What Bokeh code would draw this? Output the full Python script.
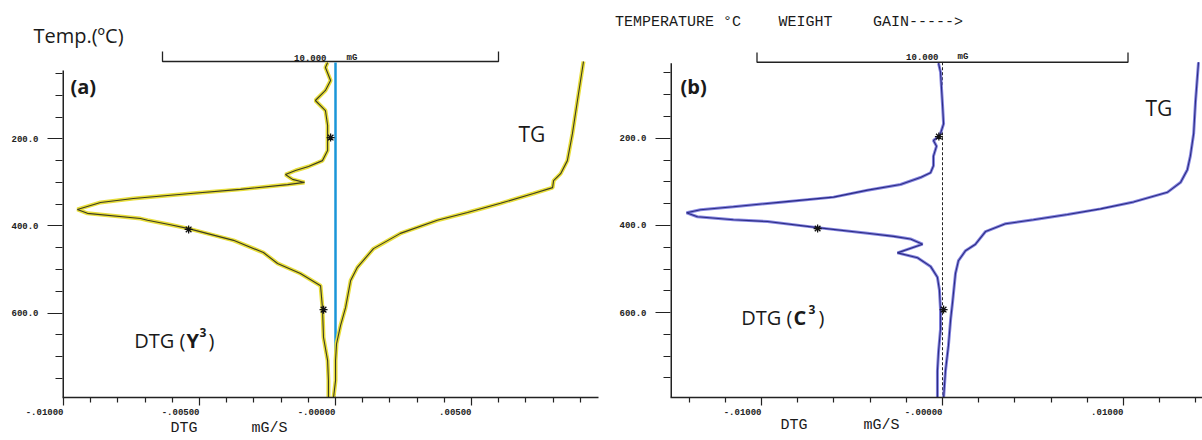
from bokeh.plotting import figure
from bokeh.models import Range1d, FixedTicker, Label, LinearAxis
from bokeh.layouts import row
from bokeh.embed import file_html
from bokeh.resources import INLINE

# ---------------- axes ----------------
temp_major = [200, 400, 600]
temp_labels = ["200.0", "400.0", "600.0"]
temp_minor = [50, 100, 150, 250, 300, 350, 450, 500, 550, 650, 700, 750]

a_x_major = [-0.010, -0.005, 0.0, 0.005]
a_x_labels = ["-.01000", "-.00500", "-.00000", ".00500"]
a_x_minor = [-0.009, -0.008, -0.007, -0.006, -0.004, -0.003, -0.002, -0.001,
             0.001, 0.002, 0.003, 0.004, 0.006, 0.007, 0.008, 0.009]

b_x_major = [-0.010, 0.0, 0.010]
b_x_labels = ["-.01000", "-.00000", ".01000"]
b_x_minor = [-0.014, -0.012, -0.008, -0.006, -0.004, -0.002,
             0.002, 0.004, 0.006, 0.008, 0.012, 0.014]

# ---------------- panel (a): Y3 ----------------
a_dtg_temp = [24.8, 36.3, 66.1, 89, 112, 135, 169, 227, 250, 263.5, 272.7, 282, 293, 300,
              305, 316, 325, 337, 346, 362, 371, 383, 387, 397, 406, 433, 461, 486, 509,
              537, 587, 656, 709, 755, 794]
a_dtg_rate = [-0.00029, -0.00037, -0.00018, -0.00037, -0.00074, -0.00037, -0.00029, -0.00029,
              -0.00048, -0.00099, -0.00147, -0.00184, -0.00158, -0.00114, -0.00176, -0.00349,
              -0.00522, -0.00743, -0.00864, -0.00949, -0.00912, -0.00717, -0.00691, -0.00607,
              -0.0054, -0.00375, -0.00265, -0.00213, -0.00129, -0.00055, -0.00048, -0.00044,
              -0.00029, -0.00026, -0.00026]
a_tg_temp = [22.5, 112, 188, 250, 280, 296, 312, 325.5, 348, 369, 387, 417, 452, 495, 525,
             587, 628, 670, 709, 755, 794]
a_tg_mass = [12.53, 12.35, 12.20, 12.05, 11.85, 11.64, 11.61, 11.04, 10.06, 9.08, 8.18, 7.08,
             6.28, 5.80, 5.60, 5.45, 5.30, 5.18, 5.15, 5.15, 5.09]
a_star_temp = [197, 408, 592]
a_star_rate = [-0.00018, -0.0054, -0.00044]

# ---------------- panel (b): C3 ----------------
b_dtg_temp = [27.6, 47.8, 121.8, 166.7, 189, 196, 205, 218, 241, 263, 279, 290, 306, 319, 335,
              346, 357, 364, 371, 380, 387, 391, 405, 418, 425, 431, 443, 463, 474, 494, 519,
              548, 593, 638, 690, 734, 795]
b_dtg_rate = [-0.00022, -0.00011, 0.0, 0.00006, -0.00011, -0.00022, -0.0005, -0.00033, -0.0005,
              -0.0005, -0.00066, -0.00122, -0.00232, -0.00414, -0.00602, -0.00878, -0.01155,
              -0.01337, -0.01414, -0.01354, -0.01155, -0.00967, -0.00691, -0.00414, -0.00271,
              -0.00177, -0.0011, -0.00249, -0.00138, -0.00066, -0.00028, -0.00017, -0.00011,
              -0.00011, -0.00022, -0.00028, -0.00028]
b_tg_temp = [25.4, 115, 189, 241, 272, 301, 324, 346, 362, 375, 387, 396, 414, 443, 458, 481,
             510, 577, 615, 676, 734, 795]
b_tg_mass = [11.90, 11.82, 11.77, 11.68, 11.60, 11.42, 11.06, 10.15, 9.26, 8.37, 7.45, 6.70,
             6.16, 5.89, 5.62, 5.43, 5.35, 5.27, 5.22, 5.16, 5.08, 5.03]
b_star_temp = [196, 407, 593]
b_star_rate = [-0.0002, -0.0069, 0.00006]

scale_bar_mass = [0, 0, 10, 10]   # the 10.000 mG scale bar of the balance

MONO = "Liberation Mono"
SANS = "Open Sans"
INK = "#1a1a1a"


def base_fig(width, xr, yr, tgr, borders, x_major, x_minor, x_labels):
    p = figure(width=width, height=440, x_range=Range1d(*xr), y_range=Range1d(*yr),
               output_backend="svg", toolbar_location=None,
               min_border_left=borders[0], min_border_right=borders[1],
               min_border_top=borders[2], min_border_bottom=borders[3])
    p.extra_x_ranges = {"tg": Range1d(*tgr)}
    p.grid.visible = False
    p.outline_line_color = None
    p.background_fill_color = "white"
    p.border_fill_color = "white"

    yax = p.yaxis[0]
    yax.ticker = FixedTicker(ticks=temp_major, minor_ticks=temp_minor)
    yax.major_label_overrides = dict(zip(temp_major, temp_labels))
    yax.major_tick_out = 15
    yax.major_tick_in = 0
    yax.minor_tick_out = 7
    yax.minor_tick_in = 0
    yax.axis_line_color = None
    yax.major_tick_line_color = "#222222"
    yax.minor_tick_line_color = "#222222"
    yax.major_tick_line_width = 1.2
    yax.minor_tick_line_width = 1.2
    yax.major_label_text_font = MONO
    yax.major_label_text_font_style = "bold"
    yax.major_label_text_font_size = "9px"
    yax.major_label_text_color = "#222222"
    yax.major_label_standoff = 9

    xax = p.xaxis[0]
    xax.ticker = FixedTicker(ticks=x_major, minor_ticks=x_minor)
    xax.major_label_overrides = dict(zip(x_major, x_labels))
    xax.major_label_orientation = 0.0001      # near-horizontal -> right-aligned at the tick
    xax.major_label_text_font = MONO
    xax.major_label_text_font_style = "bold"
    xax.major_label_text_font_size = "9px"
    xax.major_label_text_color = "#222222"
    xax.major_label_standoff = 6
    xax.major_tick_out = 8
    xax.major_tick_in = 0
    xax.minor_tick_out = 5
    xax.minor_tick_in = 0
    xax.axis_line_color = "#222222"
    xax.axis_line_width = 1.5
    xax.major_tick_line_color = "#222222"
    xax.minor_tick_line_color = "#222222"
    xax.major_tick_line_width = 1.2
    xax.minor_tick_line_width = 1.2
    return p


def text_axis(p, side, positions, texts, size, standoff, font=MONO, style="normal"):
    axis = LinearAxis(ticker=FixedTicker(ticks=positions, minor_ticks=[]),
                      major_label_overrides=dict(zip(positions, texts)),
                      axis_line_color=None, major_tick_line_color=None,
                      minor_tick_line_color=None, major_tick_out=0, major_tick_in=0,
                      minor_tick_out=0, minor_tick_in=0, major_label_standoff=standoff,
                      major_label_text_font=font, major_label_text_font_size=size,
                      major_label_text_font_style=style, major_label_text_color=INK)
    p.add_layout(axis, side)


def lab(p, x, y, text, size, font=SANS, style="normal", align="left", baseline="middle"):
    p.add_layout(Label(x=x, y=y, text=text, text_font_size=size, text_font=font,
                       text_font_style=style, text_align=align, text_baseline=baseline,
                       text_color=INK))


# ================= panel (a) =================
# reference pixel -> data helpers (for text placement only)
def ax(px):
    return (px - 335) / 27200.0


def ay(py):
    return (py - 51.2) / 0.4357


def atg(px):
    return 5 + (px - 330) / 33.6


pa = base_fig(600, (ax(62), ax(598)), (ay(397), ay(50)), (atg(62), atg(598)),
              (62, 2, 50, 43), a_x_major, a_x_minor, a_x_labels)

# left axis line (starts at the first tick, as in the print-out)
pa.line([ax(62)] * 2, [ay(70), ay(397)], line_color="#222222", line_width=3)

# scale bar
pa.line(scale_bar_mass, [ay(51), ay(61), ay(61), ay(51)], x_range_name="tg",
        line_color="#222222", line_width=1.3)
lab(pa, ax(326), ay(57), "10.000", "9px", MONO, "bold", "right")
lab(pa, ax(346), ay(57), "mG", "9px", MONO, "bold", "left")

# zero line
pa.line([0, 0], [ay(62), ay(380)], line_color="#1a96d8", line_width=2.5)
pa.line([0, 0], [ay(380), ay(397)], line_color="#222222", line_width=1, line_dash="2 2")

YEL = "#e8de3c"
DARK_A = "#3b3b22"
pa.line(a_tg_mass, a_tg_temp, x_range_name="tg", line_color=YEL, line_width=4)
pa.line(a_tg_mass, a_tg_temp, x_range_name="tg", line_color=DARK_A, line_width=1.1)
pa.line(a_dtg_rate, a_dtg_temp, line_color=YEL, line_width=4)
pa.line(a_dtg_rate, a_dtg_temp, line_color=DARK_A, line_width=1.1)
pa.scatter(a_star_rate, a_star_temp, marker="asterisk", size=8, line_color="#111111",
           line_width=1.3)

lab(pa, ax(70), ay(86), "(a)", "20px", style="bold")
lab(pa, ax(518), ay(133), "TG", "21px")
lab(pa, ax(185), ay(340), "DTG (", "20px", align="right")
lab(pa, ax(186), ay(340), "Y", "20px", style="bold")
lab(pa, ax(199), ay(332), "3", "12px", style="bold")
lab(pa, ax(208), ay(340), ")", "20px")

# texts outside the frame, carried by label-only axes
text_axis(pa, "above", [ax(78)], ["Temp.(ºC)"], "20px", 2, font=SANS)
text_axis(pa, "below", [ax(183.5), ax(269)], ["DTG", "mG/S"], "15px", -1)


# ================= panel (b) =================
def bx(px):
    return (px - 942) / 18100.0


def by(py):
    return (py - 45.7) / 0.4457


def btg(px):
    return 5 + (px - 942) / 37.1


pb = base_fig(602, (bx(670), bx(1202)), (by(400), by(45)), (btg(670), btg(1202)),
              (70, 0, 45, 40), b_x_major, b_x_minor, b_x_labels)

pb.line([bx(670)] * 2, [by(58), by(400)], line_color="#222222", line_width=3)

pb.line(scale_bar_mass, [by(47), by(57), by(57), by(47)], x_range_name="tg",
        line_color="#222222", line_width=1.3)
lab(pb, bx(938), by(52), "10.000", "9px", MONO, "bold", "right")
lab(pb, bx(957), by(52), "mG", "9px", MONO, "bold", "left")

pb.line([0, 0], [by(57), by(400)], line_color="#222222", line_width=1, line_dash="3 2")

PUR = "#8585e0"
DARK_B = "#2c2c84"
pb.line(b_tg_mass, b_tg_temp, x_range_name="tg", line_color=PUR, line_width=3)
pb.line(b_tg_mass, b_tg_temp, x_range_name="tg", line_color=DARK_B, line_width=1.1)
pb.line(b_dtg_rate, b_dtg_temp, line_color=PUR, line_width=3)
pb.line(b_dtg_rate, b_dtg_temp, line_color=DARK_B, line_width=1.1)
pb.scatter(b_star_rate, b_star_temp, marker="asterisk", size=8, line_color="#111111",
           line_width=1.3)

lab(pb, bx(680), by(82), "(b)", "20px", style="bold")
lab(pb, bx(1145), by(104), "TG", "21px")
lab(pb, bx(792), by(318), "DTG (", "20px", align="right")
lab(pb, bx(793), by(318), "C", "20px", style="bold")
lab(pb, bx(808), by(310), "3", "12px", style="bold")
lab(pb, bx(818), by(318), ")", "20px")

text_axis(pb, "above", [bx(677.5), bx(805), bx(917.5)],
          ["TEMPERATURE °C", "WEIGHT", "GAIN----->"], "15px", 20)
text_axis(pb, "below", [bx(793.5), bx(881)], ["DTG", "mG/S"], "15px", -4)

layout = row(pa, pb)
open("out.html", "w").write(file_html(layout, INLINE))
